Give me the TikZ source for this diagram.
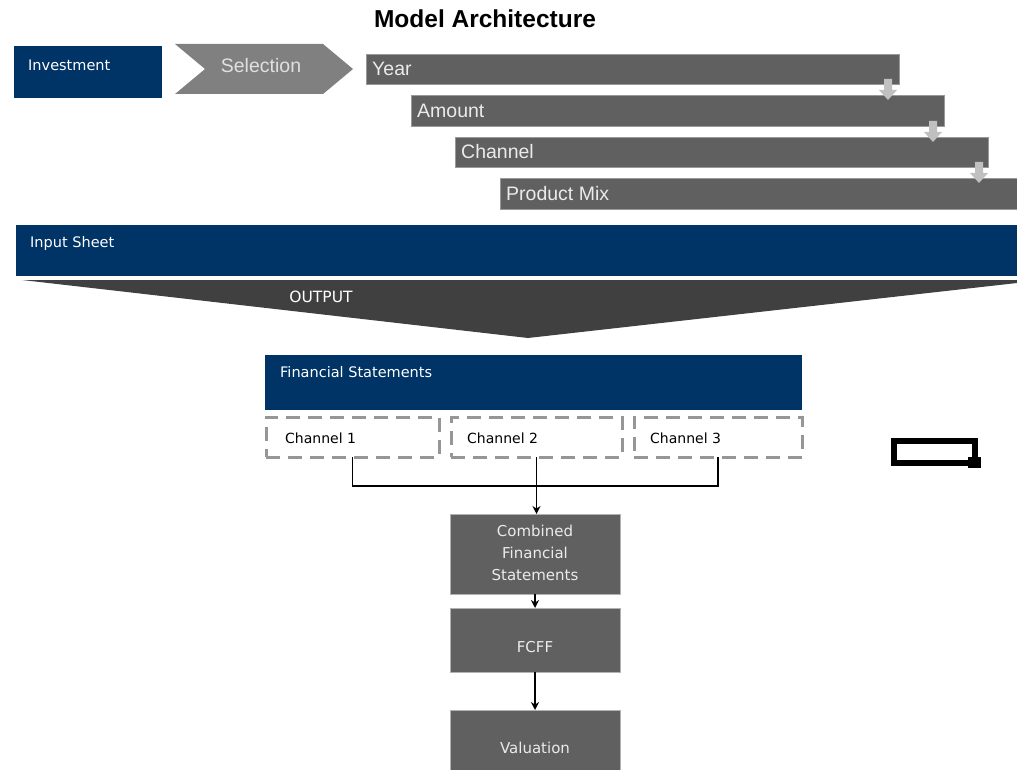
\documentclass[tikz,border=0pt]{standalone}
\usepackage{fontspec}
\setmainfont{Liberation Sans}
\newfontfamily\dv{DejaVu Sans}
\usetikzlibrary{arrows.meta}
\definecolor{navy}{RGB}{0,51,102}
\definecolor{bargray}{RGB}{96,96,96}
\definecolor{selgray}{RGB}{128,128,128}
\definecolor{funnelgray}{RGB}{64,64,64}
\definecolor{arrgray}{RGB}{192,192,192}
\definecolor{dashgray}{RGB}{150,150,150}
\begin{document}
\begin{tikzpicture}[x=1pt,y=-1pt,
  blk/.style={inner sep=0pt,outer sep=0pt,draw=none},
  navybox/.style={blk,fill=navy},
  graybar/.style={blk,fill=bargray,draw=black!40,line width=0.6pt},
  flowbox/.style={blk,fill=bargray,draw=black!30,line width=0.6pt,minimum width=170pt},
  chbox/.style={blk,draw=dashgray,line width=3pt,dash pattern=on 14pt off 8pt},
  smalltxt/.style={inner sep=0pt,text=white,font=\dv\fontsize{14.5}{16}\selectfont},
  bartxt/.style={inner sep=0pt,text=white!92!black,font=\fontsize{19.5}{22}\selectfont,anchor=west},
  chtxt/.style={inner sep=0pt,text=black,font=\dv\fontsize{14}{16}\selectfont,anchor=west},
  flowtxt/.style={inner sep=0pt,text=white!92!black,align=center,font=\dv\fontsize{15}{22}\selectfont},
  conn/.style={draw=black,line width=1.5pt},
  tip/.style={-{Stealth[length=8pt,width=8pt]}},
  dnarrow/.pic={\fill[arrgray] (-4,0)--(4,0)--(4,11)--(9,11)--(0,21)--(-9,11)--(-4,11)--cycle;}
]
\useasboundingbox (0,0) rectangle (1017,770);

% title
\node[inner sep=0pt,font=\bfseries\fontsize{24.5}{27}\selectfont] (title) at (485,19) {Model Architecture};

% investment + selection
\node[navybox,minimum width=148pt,minimum height=52pt] (inv) at (88,72) {};
\node[smalltxt,anchor=west] (invt) at (28,65) {Investment};
\fill[selgray] (175,44)--(323,44)--(353,69)--(323,94)--(175,94)--(205,69)--cycle;
\node[inner sep=0pt,text=white!88!black,font=\fontsize{19.5}{22}\selectfont] (selt) at (261,66) {Selection};

% stacked bars
\node[graybar,minimum width=533pt,minimum height=30pt] (year) at (632.5,69) {};
\node[graybar,minimum width=533pt,minimum height=31pt] (amount) at (677.5,110.5) {};
\node[graybar,minimum width=533pt,minimum height=30pt] (channel) at (721.5,152) {};
\node[graybar,minimum width=520pt,minimum height=31pt] (pmix) at (760,193.5) {};
\node[bartxt] (yeart) at (372,69) {Year};
\node[bartxt] (amountt) at (417,110.5) {Amount};
\node[bartxt] (channelt) at (461,152) {Channel};
\node[bartxt] (pmixt) at (506,193.5) {Product Mix};
\pic at (888,79) {dnarrow};
\pic at (933,121) {dnarrow};
\pic at (979,162) {dnarrow};

% input sheet + funnel
\node[navybox,minimum width=1003pt,minimum height=51pt] (input) at (517.5,250.5) {};
\node[smalltxt,anchor=west] (inputt) at (30,243) {Input Sheet};
\fill[funnelgray] (22,280)--(1017,280)--(1017,283)--(528,338)--cycle;
\node[inner sep=0pt,text=white,font=\dv\fontsize{15.5}{18}\selectfont] (outt) at (321,297) {OUTPUT};

% financial statements
\node[navybox,minimum width=537pt,minimum height=55pt] (fs) at (533.5,382.5) {};
\node[smalltxt,anchor=west] (fst) at (280,372) {Financial Statements};
\node[chbox,minimum width=173pt,minimum height=40pt] (ch1) at (352.5,437) {};
\node[chbox,minimum width=171pt,minimum height=40pt] (ch2) at (536.5,437) {};
\node[chbox,minimum width=168pt,minimum height=40pt] (ch3) at (718,437) {};
\node[chtxt] (ch1t) at (285,438) {Channel 1};
\node[chtxt] (ch2t) at (467,438) {Channel 2};
\node[chtxt] (ch3t) at (650,438) {Channel 3};

% flow boxes
\node[flowbox,minimum height=80pt] (comb) at (535,554) {};
\node[flowtxt] (combt) at (535,553) {Combined\\Financial\\Statements};
\node[flowbox,minimum height=64pt] (fcff) at (535,640) {};
\node[flowtxt] (fcfft) at (535,647) {FCFF};
\node[flowbox,minimum height=62pt] (val) at (535,741) {};
\node[flowtxt] (valt) at (535,748) {Valuation};

% connectors
\coordinate (j1) at (ch1.south |- 0,486);
\coordinate (j3) at (ch3.south |- 0,486);
\draw[conn] (ch1.south) -- (j1) -- (j3) -- (ch3.south);
\draw[conn,tip] (ch2.south) -- (ch2.south |- comb.north);
\draw[conn,tip] (comb.south) -- (fcff.north);
\draw[conn,tip] (fcff.south) -- (val.north);

% odd marker at right
\draw[black,line width=6pt] (893.7,441) rectangle (975,463.3);
\fill[black] (968,456.7) rectangle (980.7,467.7);
\end{tikzpicture}
\end{document}
